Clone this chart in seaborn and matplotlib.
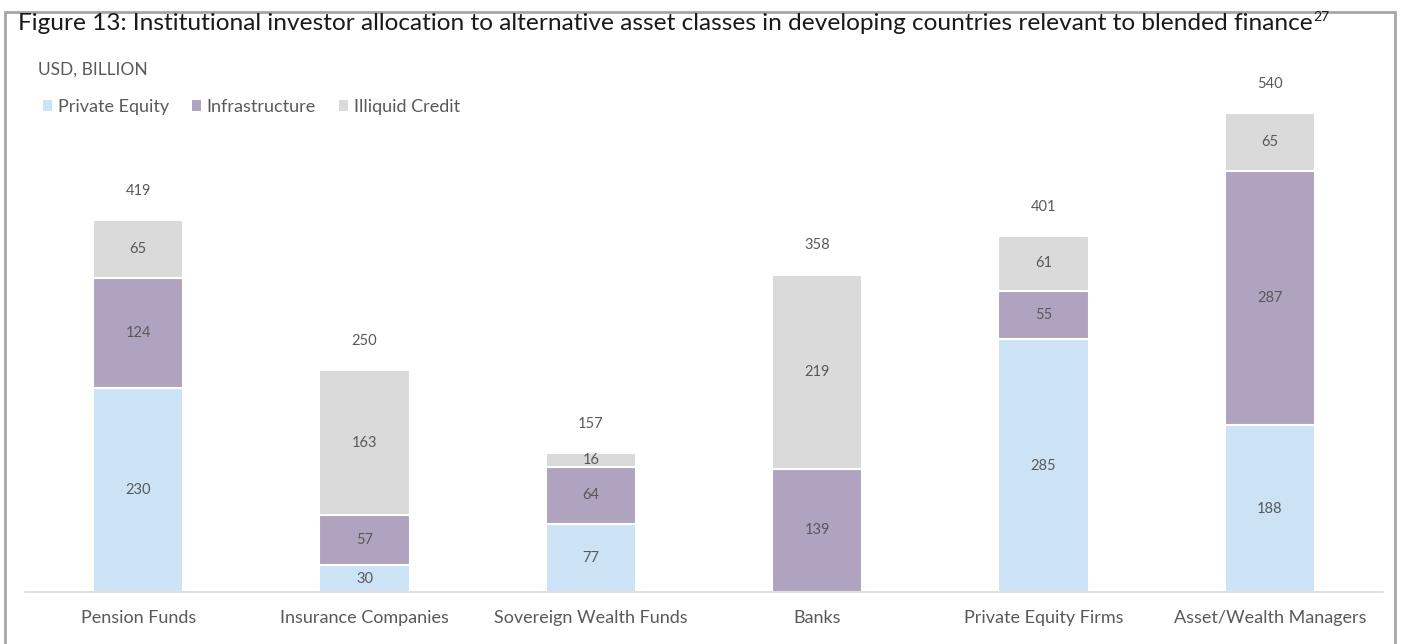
import matplotlib
matplotlib.use("Agg")
import matplotlib.pyplot as plt
from matplotlib.patches import Rectangle, Patch
import seaborn as sns
import pandas as pd

categories = ["Pension Funds", "Insurance Companies", "Sovereign Wealth Funds",
              "Banks", "Private Equity Firms", "Asset/Wealth Managers"]
private_equity = [230, 30, 77, 0, 285, 188]
infrastructure = [124, 57, 64, 139, 55, 287]
illiquid_credit = [65, 163, 16, 219, 61, 65]
totals = [419, 250, 157, 358, 401, 540]
series_names = ["Private Equity", "Infrastructure", "Illiquid Credit"]
colors = ["#CCE3F6", "#B0A3C0", "#DADADA"]

sns.set_theme(style="white")
plt.rcParams['font.family'] = ['Lato', 'DejaVu Sans']
txt = "#595959"

df = pd.DataFrame({"cat": categories, "pe": private_equity,
                   "inf": infrastructure, "ic": illiquid_credit})
df["b2"] = df["pe"]
df["b3"] = df["pe"] + df["inf"]

fig = plt.figure(figsize=(14.05, 6.44), dpi=100)
ax = fig.add_axes([25/1405, 1-592/644, (1383-25)/1405, (592-60)/644])

common = dict(ax=ax, width=0.4, edgecolor="white", linewidth=1.5, order=categories)
sns.barplot(data=df, x="cat", y="pe", color=colors[0], saturation=1, **common)
sns.barplot(data=df, x="cat", y="inf", bottom=df["b2"], color=colors[1], saturation=1, **common)
sns.barplot(data=df, x="cat", y="ic", bottom=df["b3"], color=colors[2], saturation=1, **common)

ax.set_xlim(-0.5, 5.5)
ax.set_ylim(0, 600)
ax.set_xlabel("")
ax.set_ylabel("")
ax.set_yticks([])
for s in ["top", "left", "right"]:
    ax.spines[s].set_visible(False)
ax.spines["bottom"].set_color("#D9D9D9")
ax.spines["bottom"].set_linewidth(1.2)
ax.tick_params(axis="x", length=0, pad=13, labelsize=13, labelcolor=txt)

for i in range(len(categories)):
    b = 0
    for vals in (private_equity, infrastructure, illiquid_credit):
        v = vals[i]
        if v > 0:
            ax.text(i, b + v/2, f"{v}", ha="center", va="center", fontsize=10.5, color=txt)
        b += v
    ax.annotate(f"{totals[i]}", (i, totals[i]), xytext=(0, 21), textcoords="offset points",
                ha="center", va="center", fontsize=10.5, color=txt)

handles = [Patch(facecolor=c, edgecolor="none") for c in colors]
leg = ax.legend(handles, series_names, loc="center left", bbox_to_anchor=(0.008, (592-107)/532),
                ncol=3, frameon=False, fontsize=13, handlelength=0.5, handleheight=0.5,
                handletextpad=0.3, columnspacing=1.3, borderaxespad=0)
for t in leg.get_texts():
    t.set_color(txt)

fig.text(38/1405, 1-70/644, "USD, BILLION", ha="left", va="center", fontsize=12.5, color=txt)

title = fig.text(18/1405, 1-23/644, "Figure 13: Institutional investor allocation to alternative asset classes in developing countries relevant to blended finance",
                 ha="left", va="center", fontsize=17.6, color="#1a1a1a")
fig.canvas.draw()
bb = title.get_window_extent()
fig.text((bb.x1 + 1)/1405, 1-17/644, "27", ha="left", va="center", fontsize=10, color="#1a1a1a")

fig.patches.append(Rectangle((5/1405, -0.02), 1390/1405, 1.02 - 12/644, transform=fig.transFigure,
                             fill=False, edgecolor="#A6A6A6", linewidth=2, zorder=-1))

fig.savefig("out.png", dpi=100)
